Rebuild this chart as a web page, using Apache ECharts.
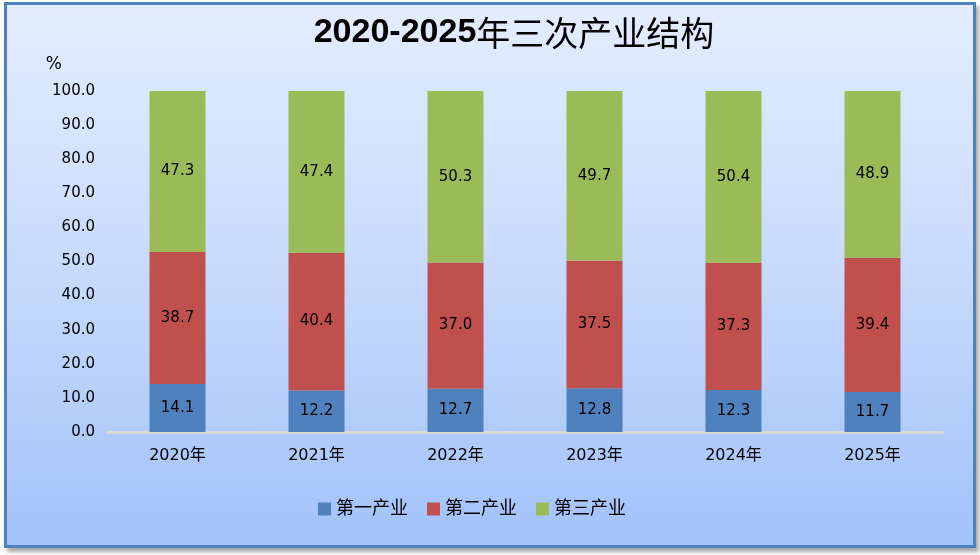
<!DOCTYPE html>
<html lang="zh">
<head>
    <meta charset="UTF-8">
    <script src="https://cdn.jsdelivr.net/npm/echarts/dist/echarts.min.js"></script>
    <style>
        body, html {
            margin: 0;
            padding: 0;
            width: 980px;
            height: 555px;
            background: #ffffff;
            overflow: hidden;
        }
        #frame {
            position: absolute;
            left: 4px;
            top: 2px;
            width: 966px;
            height: 540px;
            border: 3px solid #4F81BD;
            background: linear-gradient(to bottom, #E4EDFF 0%, #C7DAFC 50%, #A2C2FA 100%);
            box-shadow: 3px 4px 4px rgba(0, 0, 0, 0.35);
        }
        #main {
            position: absolute;
            left: 0;
            top: 0;
            width: 980px;
            height: 555px;
        }
    </style>
</head>
<body>
    <div id="frame"></div>
    <div id="main"></div>
    <script>
        const years = ['2020年', '2021年', '2022年', '2023年', '2024年', '2025年'];
        const primary = [14.1, 12.2, 12.7, 12.8, 12.3, 11.7];
        const secondary = [38.7, 40.4, 37.0, 37.5, 37.3, 39.4];
        const tertiary = [47.3, 47.4, 50.3, 49.7, 50.4, 48.9];
        const seriesNames = ['第一产业', '第二产业', '第三产业'];
        const colors = ['#4F81BD', '#C0504D', '#9BBB59'];

        const cjk = '"Liberation Sans", "Noto Sans CJK SC", sans-serif';
        const bodyFont = '"DejaVu Sans", "Noto Sans CJK SC", sans-serif';

        function makeSeries(name, data, color) {
            return {
                name: name,
                type: 'bar',
                stack: 'total',
                barWidth: 56,
                data: data,
                itemStyle: { color: color },
                label: {
                    show: true,
                    position: 'inside',
                    color: '#000',
                    fontSize: 15,
                    fontFamily: bodyFont,
                    formatter: p => p.value.toFixed(1)
                }
            };
        }

        const chart = echarts.init(document.getElementById('main'));
        chart.setOption({
            animation: false,
            backgroundColor: 'transparent',
            color: colors,
            title: {
                text: '{a|2020-2025}{b|年三次产业结构}',
                left: 509,
                top: 11,
                textAlign: 'center',
                textStyle: {
                    rich: {
                        a: { fontSize: 34, fontWeight: 'bold', color: '#000', fontFamily: cjk },
                        b: { fontSize: 34, fontWeight: 'normal', color: '#000', fontFamily: '"Noto Sans CJK SC", sans-serif' }
                    }
                }
            },
            legend: {
                bottom: 32,
                left: 313,
                itemWidth: 13,
                itemHeight: 13,
                itemGap: 19,
                icon: 'rect',
                textStyle: { fontSize: 18, color: '#000', fontFamily: bodyFont },
                data: seriesNames
            },
            grid: {
                left: 108,
                right: 38,
                top: 91,
                bottom: 123
            },
            xAxis: {
                type: 'category',
                data: years,
                axisLine: { lineStyle: { color: '#D9D9D9', width: 3 } },
                axisTick: { show: false },
                axisLabel: { color: '#000', fontSize: 16, margin: 16, fontFamily: bodyFont }
            },
            yAxis: {
                type: 'value',
                min: 0,
                max: 100,
                interval: 10,
                name: '%',
                nameLocation: 'end',
                nameGap: 18,
                nameTextStyle: { color: '#000', fontSize: 17, fontFamily: bodyFont, align: 'right', padding: [0, 46, 0, 0] },
                splitLine: { show: false },
                axisLine: { show: false },
                axisTick: { show: false },
                axisLabel: {
                    color: '#000',
                    fontSize: 15,
                    margin: 13,
                    fontFamily: bodyFont,
                    formatter: v => v.toFixed(1)
                }
            },
            series: [
                makeSeries(seriesNames[0], primary, colors[0]),
                makeSeries(seriesNames[1], secondary, colors[1]),
                makeSeries(seriesNames[2], tertiary, colors[2])
            ]
        });
    </script>
</body>
</html>
